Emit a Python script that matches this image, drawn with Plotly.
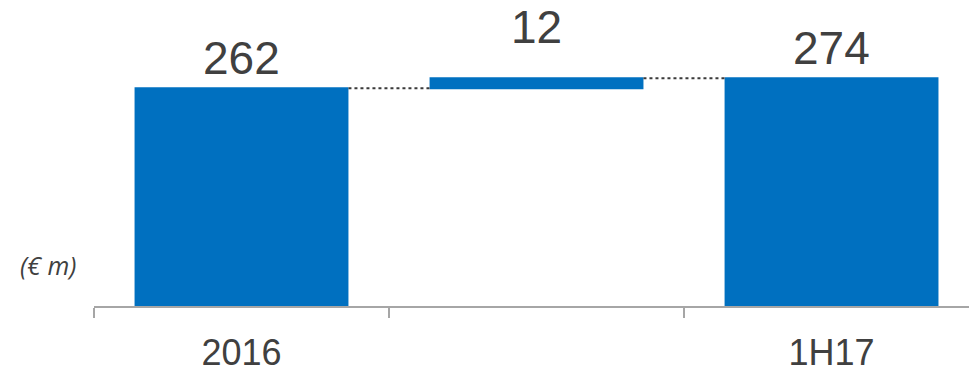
import plotly.graph_objects as go

categories = ["2016", " ", "1H17"]
values = [262, 12, 274]
measures = ["absolute", "relative", "total"]
label_shift = [2, 23, 2]

BLUE = "#0070C0"
TXT = "#404040"
FONT = "Liberation Sans, Arial, sans-serif"

fig = go.Figure()
fig.add_trace(go.Waterfall(
    x=categories,
    y=values,
    measure=measures,
    increasing=dict(marker=dict(color=BLUE)),
    decreasing=dict(marker=dict(color=BLUE)),
    totals=dict(marker=dict(color=BLUE)),
    connector=dict(mode="between", line=dict(color="#3a3a3a", width=2, dash="dot")),
    textposition="none",
    hoverinfo="skip",
))

# cumulative tops for labels
tops = []
run = 0
for v, m in zip(values, measures):
    if m == "absolute":
        run = v
    elif m == "relative":
        run += v
    tops.append(run)

for i, (v, t, s) in enumerate(zip(values, tops, label_shift)):
    fig.add_annotation(x=i, y=t, text=str(v), showarrow=False, yanchor="bottom",
                       yshift=s, font=dict(family=FONT, size=46, color=TXT))

fig.add_annotation(xref="paper", yref="paper", x=-0.018, y=0.135, xanchor="right",
                   yanchor="middle", text="<i>(€ m)</i>", showarrow=False,
                   font=dict(family="Open Sans, sans-serif", size=25, color=TXT))

fig.update_layout(
    width=969, height=373,
    margin=dict(l=94, r=0, t=0, b=62),
    paper_bgcolor="white", plot_bgcolor="white",
    showlegend=False,
    waterfallgap=0.275,
    xaxis=dict(
        type="category",
        range=[-0.5, 2.466],
        tickson="boundaries",
        ticks="outside", ticklen=10, tickcolor="#A6A6A6", tickwidth=1.5,
        showline=True, linecolor="#A6A6A6", linewidth=1.5,
        showgrid=False,
        ticklabelstandoff=14,
        tickfont=dict(family=FONT, size=36, color=TXT),
    ),
    yaxis=dict(range=[0, 368], visible=False, showgrid=False, zeroline=False),
)

fig.write_html("out.html")
